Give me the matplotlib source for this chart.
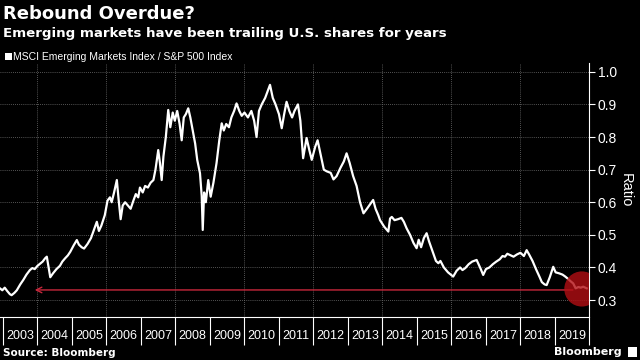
import numpy as np
import pandas as pd
from matplotlib import pyplot as plt

years = [2002.91, 2002.98, 2003.05, 2003.12, 2003.20, 2003.25, 2003.33, 2003.40, 2003.50, 2003.59,
         2003.68, 2003.78, 2003.85, 2003.92, 2004.00, 2004.08, 2004.15, 2004.22, 2004.27, 2004.33,
         2004.37, 2004.45, 2004.55, 2004.65, 2004.72, 2004.80, 2004.88, 2004.95, 2005.05, 2005.14,
         2005.20, 2005.28, 2005.35, 2005.45, 2005.55, 2005.65, 2005.72, 2005.78, 2005.85, 2005.95,
         2006.03, 2006.10, 2006.15, 2006.22, 2006.30, 2006.35, 2006.41, 2006.47, 2006.54, 2006.62,
         2006.70, 2006.78, 2006.85, 2006.92, 2006.97, 2007.05, 2007.12, 2007.20, 2007.28, 2007.36,
         2007.42, 2007.50, 2007.55, 2007.60, 2007.65, 2007.72, 2007.79, 2007.85, 2007.92, 2007.98,
         2008.05, 2008.12, 2008.18, 2008.24, 2008.30, 2008.37, 2008.43, 2008.50, 2008.57, 2008.63,
         2008.71, 2008.76, 2008.79, 2008.83, 2008.88, 2008.95, 2009.02, 2009.10, 2009.19, 2009.27,
         2009.34, 2009.40, 2009.47, 2009.55, 2009.62, 2009.70, 2009.77, 2009.85, 2009.92, 2010.00,
         2010.10, 2010.20, 2010.28, 2010.35, 2010.42, 2010.50, 2010.60, 2010.74, 2010.82, 2010.90,
         2011.00, 2011.08, 2011.15, 2011.22, 2011.30, 2011.38, 2011.45, 2011.55, 2011.62, 2011.70,
         2011.80, 2011.88, 2011.95, 2012.05, 2012.12, 2012.20, 2012.30, 2012.38, 2012.50, 2012.58,
         2012.67, 2012.78, 2012.88, 2012.96, 2013.05, 2013.15, 2013.25, 2013.35, 2013.45, 2013.55,
         2013.65, 2013.73, 2013.80, 2013.88, 2013.93, 2014.05, 2014.17, 2014.22, 2014.27, 2014.35,
         2014.45, 2014.55, 2014.62, 2014.70, 2014.80, 2014.90, 2014.99, 2015.05, 2015.12, 2015.20,
         2015.28, 2015.35, 2015.45, 2015.55, 2015.62, 2015.68, 2015.78, 2015.90, 2016.05, 2016.15,
         2016.25, 2016.32, 2016.40, 2016.50, 2016.60, 2016.73, 2016.85, 2016.92, 2017.00, 2017.10,
         2017.20, 2017.30, 2017.40, 2017.48, 2017.55, 2017.62, 2017.70, 2017.80, 2017.90, 2018.00,
         2018.10, 2018.18, 2018.25, 2018.35, 2018.45, 2018.55, 2018.62, 2018.70, 2018.76, 2018.85,
         2018.95, 2019.02, 2019.12, 2019.22, 2019.30, 2019.38, 2019.45, 2019.53, 2019.60, 2019.68,
         2019.75, 2019.82, 2019.92]
ratio = [0.336, 0.330, 0.338, 0.328, 0.318, 0.315, 0.322, 0.330, 0.348, 0.362,
         0.378, 0.392, 0.398, 0.395, 0.405, 0.412, 0.418, 0.428, 0.433, 0.395,
         0.370, 0.382, 0.395, 0.405, 0.418, 0.428, 0.437, 0.448, 0.468, 0.484,
         0.470, 0.462, 0.458, 0.472, 0.490, 0.520, 0.540, 0.512, 0.528, 0.560,
         0.605, 0.615, 0.600, 0.630, 0.668, 0.610, 0.548, 0.590, 0.600, 0.590,
         0.580, 0.605, 0.625, 0.615, 0.645, 0.630, 0.650, 0.645, 0.660, 0.668,
         0.700, 0.760, 0.720, 0.668, 0.740, 0.800, 0.883, 0.830, 0.875, 0.850,
         0.880, 0.840, 0.790, 0.860, 0.870, 0.888, 0.860, 0.820, 0.780, 0.730,
         0.689, 0.620, 0.515, 0.630, 0.600, 0.668, 0.617, 0.660, 0.720, 0.790,
         0.842, 0.820, 0.840, 0.830, 0.860, 0.880, 0.903, 0.880, 0.865, 0.875,
         0.860, 0.880, 0.850, 0.800, 0.880, 0.900, 0.920, 0.960, 0.920, 0.900,
         0.870, 0.827, 0.870, 0.908, 0.880, 0.860, 0.880, 0.900, 0.850, 0.735,
         0.797, 0.760, 0.730, 0.770, 0.790, 0.750, 0.700, 0.695, 0.690, 0.670,
         0.680, 0.705, 0.725, 0.750, 0.720, 0.680, 0.650, 0.600, 0.566, 0.580,
         0.595, 0.607, 0.580, 0.560, 0.545, 0.525, 0.510, 0.550, 0.555, 0.545,
         0.548, 0.552, 0.540, 0.520, 0.500, 0.475, 0.459, 0.485, 0.462, 0.490,
         0.505, 0.480, 0.450, 0.420, 0.413, 0.420, 0.400, 0.385, 0.372, 0.390,
         0.400, 0.392, 0.398, 0.410, 0.418, 0.423, 0.395, 0.377, 0.395, 0.400,
         0.410, 0.418, 0.425, 0.435, 0.433, 0.442, 0.438, 0.433, 0.440, 0.445,
         0.435, 0.453, 0.440, 0.420, 0.395, 0.372, 0.355, 0.348, 0.346, 0.370,
         0.402, 0.385, 0.382, 0.378, 0.372, 0.365, 0.358, 0.351, 0.336, 0.340,
         0.338, 0.341, 0.336]

year_labels = [str(y) for y in range(2003, 2020)]
y_ticks = [0.3, 0.4, 0.5, 0.6, 0.7, 0.8, 0.9, 1.0]

# red marker: arrow back to the 2003 level and the circle round the latest value
arrow_level = 0.331
arrow_from = 2019.6
arrow_to = 2003.84
circle_x = 2019.78
circle_y = 0.334

df = pd.DataFrame({'year': years, 'ratio': ratio})

plt.rcParams['font.family'] = ['Liberation Sans Narrow', 'Liberation Sans', 'DejaVu Sans']

fig = plt.figure(figsize=(6.4, 3.6), dpi=100, facecolor='black')
ax = fig.add_axes([0.0, 0.1194, 0.921, 0.7056], facecolor='black')

ax.plot(df.year, df.ratio, color='white', linewidth=1.6, zorder=3)

ax.annotate('', xy=(arrow_to, arrow_level), xytext=(arrow_from, arrow_level),
            arrowprops=dict(arrowstyle='->', color='#c8283c', lw=1.0, mutation_scale=10),
            zorder=2)
ax.scatter([circle_x], [circle_y], s=640, color='#b30f14', alpha=0.8, edgecolors='none', zorder=4)

ax.set_xlim(2002.913, 2020.0)
ax.set_ylim(0.248, 1.027)

# year separators as major ticks, labels in the middle of each year
ax.set_xticks(range(2003, 2021))
ax.set_xticklabels([])
ax.set_xticks([y + 0.5 for y in range(2003, 2020)], minor=True)
ax.set_xticklabels(year_labels, minor=True)
ax.tick_params(axis='x', which='major', direction='out', length=20, width=0.8, color='white')
ax.tick_params(axis='x', which='minor', length=0, pad=9, labelsize=9, labelcolor='white')

ax.yaxis.tick_right()
ax.yaxis.set_label_position('right')
ax.set_yticks(y_ticks)
ax.set_yticklabels(['%.1f' % v for v in y_ticks])
ax.tick_params(axis='y', direction='out', length=4, width=0.8, color='white',
               labelsize=10, labelcolor='white', pad=2)
ax.set_ylabel('Ratio', color='white', fontsize=10.5, rotation=270, labelpad=11)

for y in y_ticks:
    ax.axhline(y, color='#707070', linewidth=0.6, linestyle=(0, (1, 1.5)), zorder=1)
for x in range(2004, 2020, 2):
    ax.axvline(x, color='#707070', linewidth=0.6, linestyle=(0, (1, 1.5)), zorder=1)

for side in ['top', 'left']:
    ax.spines[side].set_visible(False)
ax.spines['bottom'].set_color('white')
ax.spines['right'].set_color('white')

fig.text(0.004, 0.962, 'Rebound Overdue?', color='white', fontsize=13, fontweight='bold',
         family='DejaVu Sans', va='center', ha='left')
fig.text(0.004, 0.908, 'Emerging markets have been trailing U.S. shares for years', color='white',
         fontsize=9.6, fontweight='bold', family='DejaVu Sans', va='center', ha='left')
fig.patches.append(plt.Rectangle((0.008, 0.834), 0.01, 0.018, transform=fig.transFigure,
                                 facecolor='white', edgecolor='none'))
fig.text(0.021, 0.842, 'MSCI Emerging Markets Index / S&P 500 Index', color='white',
         fontsize=7.5, va='center', ha='left')
fig.text(0.004, 0.02, 'Source: Bloomberg', color='white', fontsize=7.5, fontweight='bold',
         family='DejaVu Sans', va='center', ha='left')
fig.text(0.972, 0.022, 'Bloomberg', color='white', fontsize=8, fontweight='bold',
         family='DejaVu Sans', va='center', ha='right')
fig.patches.append(plt.Rectangle((0.981, 0.008), 0.014, 0.028, transform=fig.transFigure,
                                 facecolor='white', edgecolor='none'))

plt.savefig('out.png', dpi=100, facecolor='black')
